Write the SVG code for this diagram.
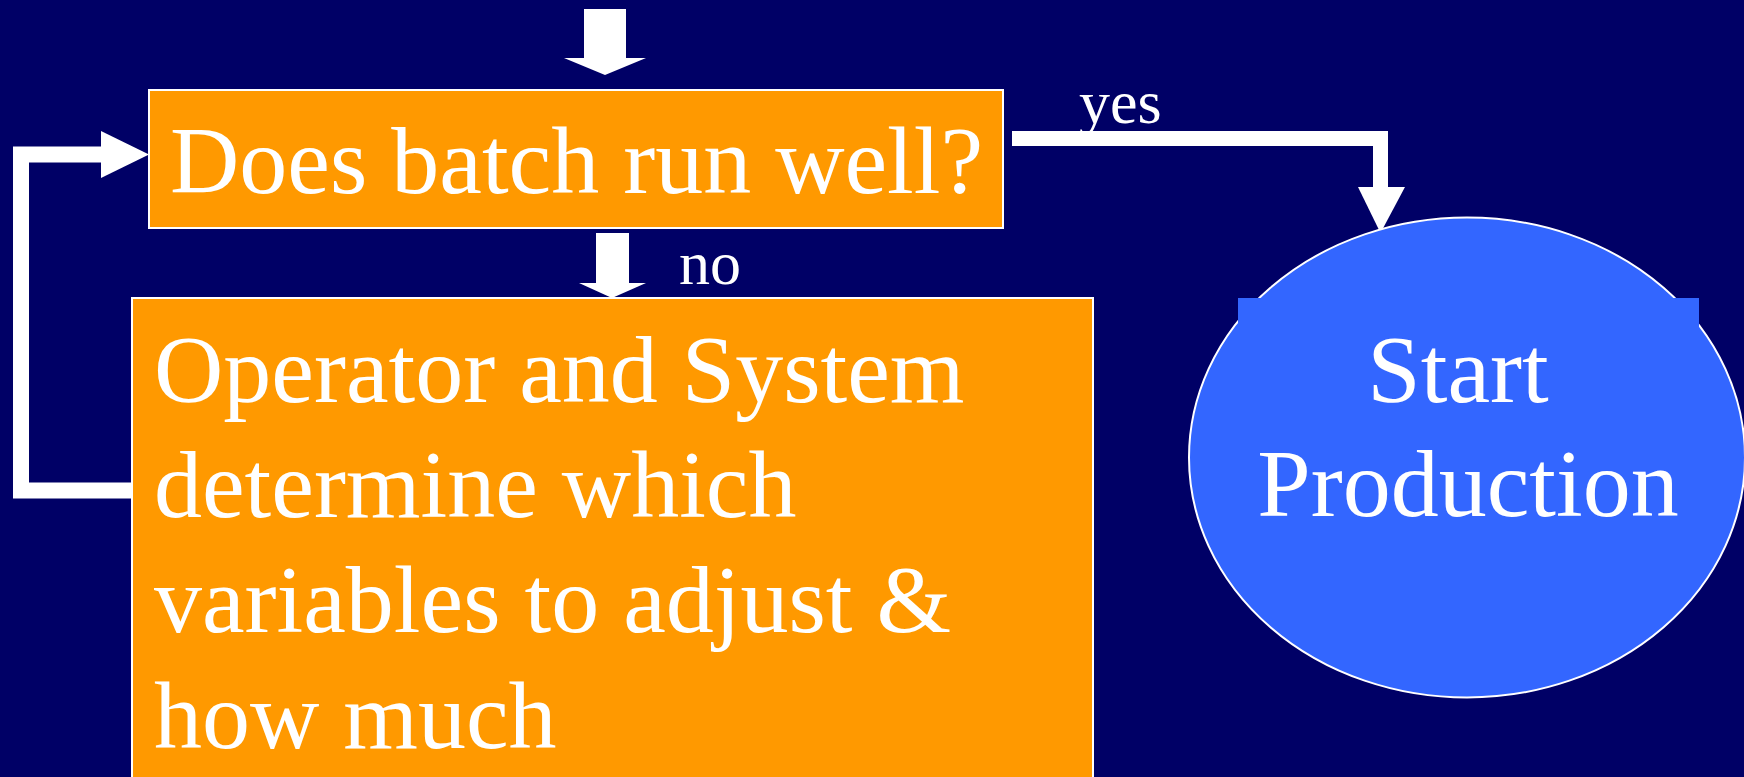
<svg xmlns="http://www.w3.org/2000/svg" width="1744" height="777" viewBox="0 0 1744 777">
<style>
.bg{fill:#000066}
.box{fill:#FF9900;stroke:#FFFFFF;stroke-width:2}
.oval{fill:#3366FF;stroke:#FFFFFF;stroke-width:2}
text{font-family:'Liberation Serif','Times New Roman',Times,serif;fill:#FFFFFF}
.big{font-size:96px}
.small{font-size:62px}
.line{fill:none;stroke:#FFFFFF;stroke-width:16;stroke-linejoin:miter}
.head{fill:#FFFFFF}
</style>
<rect class="bg" x="0" y="0" width="1744" height="777"/>
<g id="connectors">
  <polygon class="head" points="584,9 626,9 626,58 646,58 605,75 564,58 584,58"/>
  <polygon class="head" points="596,233 629,233 629,283 646,283 612,298 579,283 596,283"/>
  <polyline class="line" points="132,490.5 21,490.5 21,154.5 101,154.5"/>
  <polygon class="head" points="101,131 149,154.5 101,178"/>
  <polyline class="line" style="stroke-width:15" points="1012,138.5 1380.5,138.5 1380.5,188"/>
  <polygon class="head" points="1358,187 1405,187 1380.5,233"/>
  <text class="small" x="1079" y="123" font-family="Liberation Serif, serif">yes</text>
  <text class="small" x="679" y="284" font-family="Liberation Serif, serif">no</text>
</g>
<g id="node-question">
  <rect class="box" x="149" y="90" width="854" height="138"/>
  <text class="big" x="170" y="193" font-family="Liberation Serif, serif">Does batch run well?</text>
</g>
<g id="node-adjust">
  <rect class="box" x="132" y="298" width="961" height="500"/>
  <text class="big" x="154" y="402" font-family="Liberation Serif, serif">Operator and System</text>
  <text class="big" x="154" y="517" font-family="Liberation Serif, serif">determine which</text>
  <text class="big" x="154" y="632" font-family="Liberation Serif, serif">variables to adjust &amp;</text>
  <text class="big" x="154" y="748" font-family="Liberation Serif, serif">how much</text>
</g>
<g id="node-start">
  <ellipse class="oval" cx="1467" cy="457.5" rx="278" ry="240"/>
  <rect x="1238" y="298" width="461" height="180" fill="#3366FF"/>
  <text class="big" x="1458" y="402" text-anchor="middle" font-family="Liberation Serif, serif">Start</text>
  <text class="big" x="1468" y="516" text-anchor="middle" font-family="Liberation Serif, serif">Production</text>
</g>
</svg>
